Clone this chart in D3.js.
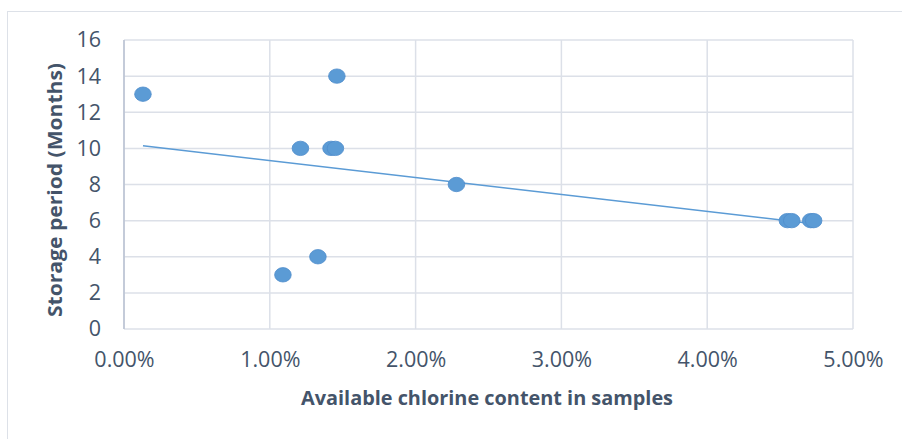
<!DOCTYPE html>
<html>
<head>
<meta charset="utf-8">
<script src="https://cdn.jsdelivr.net/npm/d3@7"></script>
<style>
  body { margin: 0; background: #fff; }
  text { font-family: "Open Sans", "Liberation Sans", sans-serif; fill: #44546A; }
</style>
</head>
<body>
<script>
// data (x in %, y in months)
var chlorine = [0.13, 1.09, 1.21, 1.33, 1.42, 1.45, 1.46, 2.28, 4.55, 4.58, 4.71, 4.73];
var months   = [13, 3, 10, 4, 10, 10, 14, 8, 6, 6, 6, 6];
var xTicks = [0, 1, 2, 3, 4, 5];
var yTicks = [0, 2, 4, 6, 8, 10, 12, 14, 16];

var svg = d3.select("body")
    .append("svg")
    .attr("width", 902)
    .attr("height", 439)
    .style("display", "block");

var margin = {top: 40, right: 49, bottom: 110, left: 124};
var width = 902 - margin.left - margin.right;
var height = 439 - margin.top - margin.bottom;

// outer chart border
svg.append("rect")
    .attr("x", 7.5).attr("y", 11.5)
    .attr("width", 920).attr("height", 460)
    .attr("fill", "none")
    .attr("stroke", "#DDE1E8")
    .attr("stroke-width", 1);

var g = svg.append("g").attr("transform", "translate(" + margin.left + "," + margin.top + ")");

var x = d3.scaleLinear().domain([0, 5]).range([0, width]);
var y = d3.scaleLinear().domain([0, 16]).range([height, 0]);

//grid
g.selectAll(".vgrid")
    .data(xTicks)
    .enter()
    .append("line")
    .attr("x1", d => x(d)).attr("x2", d => x(d))
    .attr("y1", 0).attr("y2", height)
    .attr("stroke", "#DCE0E8")
    .attr("stroke-width", 1.5);

g.selectAll(".hgrid")
    .data(yTicks)
    .enter()
    .append("line")
    .attr("x1", 0).attr("x2", width)
    .attr("y1", d => y(d)).attr("y2", d => y(d))
    .attr("stroke", "#DCE0E8")
    .attr("stroke-width", 1.5);

// left axis line
g.append("line")
    .attr("x1", 0).attr("x2", 0)
    .attr("y1", 0).attr("y2", height)
    .attr("stroke", "#B8C2D2")
    .attr("stroke-width", 1.5);

// axes (labels only)
var xAxis = g.append("g")
    .attr("transform", "translate(0," + height + ")")
    .call(d3.axisBottom(x).tickValues(xTicks).tickSize(0).tickPadding(23)
        .tickFormat(d => d.toFixed(2) + "%"));
var yAxis = g.append("g")
    .call(d3.axisLeft(y).tickValues(yTicks).tickSize(0).tickPadding(23));

[xAxis, yAxis].forEach(function (a) {
    a.select(".domain").remove();
    a.attr("font-size", null).attr("font-family", null);
    a.selectAll("text")
        .attr("fill", "#44546A")
        .style("font-size", "21.5px");
});

// trendline (least squares)
var n = chlorine.length;
var mx = d3.mean(chlorine), my = d3.mean(months);
var sxy = 0, sxx = 0;
for (var i = 0; i < n; i++) {
    sxy += (chlorine[i] - mx) * (months[i] - my);
    sxx += (chlorine[i] - mx) * (chlorine[i] - mx);
}
var slope = sxy / sxx;
var icpt = my - slope * mx;
var xr = d3.extent(chlorine);

g.append("line")
    .attr("x1", x(xr[0])).attr("y1", y(icpt + slope * xr[0]))
    .attr("x2", x(xr[1])).attr("y2", y(icpt + slope * xr[1]))
    .attr("stroke", "#5B9BD5")
    .attr("stroke-width", 1.6);

// points
g.selectAll(".pt")
    .data(chlorine)
    .enter()
    .append("ellipse")
    .attr("cx", d => x(d))
    .attr("cy", (d, i) => y(months[i]))
    .attr("rx", 8.3)
    .attr("ry", 7.2)
    .attr("fill", "#5B9BD5")
    .attr("stroke", "#4F8DCB")
    .attr("stroke-width", 0.8);

// axis titles
function fitText(sel, w) {
    sel.attr("textLength", w).attr("lengthAdjust", "spacingAndGlyphs");
}

var xt = svg.append("text")
    .attr("x", 487)
    .attr("y", 405)
    .attr("text-anchor", "middle")
    .style("font-size", "19px")
    .style("font-weight", "bold")
    .text("Available chlorine content in samples");
fitText(xt, 372);

var yt = svg.append("text")
    .attr("transform", "translate(62,190) rotate(-90)")
    .attr("text-anchor", "middle")
    .style("font-size", "19px")
    .style("font-weight", "bold")
    .text("Storage period (Months)");
fitText(yt, 254);
</script>
</body>
</html>
